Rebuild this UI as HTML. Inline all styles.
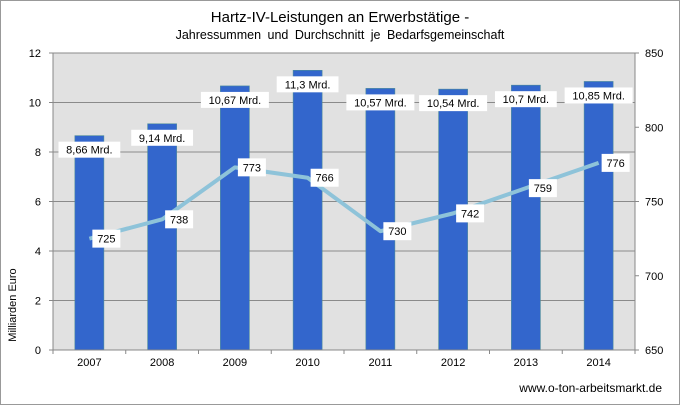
<!DOCTYPE html>
<html><head><meta charset="utf-8"><style>
body{margin:0;background:#fff;}
svg text{font-family:"Liberation Sans",Arial,sans-serif;}
</style></head><body>
<svg width="680" height="405" xmlns="http://www.w3.org/2000/svg">
<rect x="0.5" y="0.5" width="679" height="404" fill="#fff" stroke="#999"/>
<text x="340" y="22" font-size="15" text-anchor="middle">Hartz-IV-Leistungen an Erwerbstätige -</text>
<text x="340" y="39" font-size="12.5" text-anchor="middle" word-spacing="3">Jahressummen und Durchschnitt je Bedarfsgemeinschaft</text>
<rect x="53" y="53" width="582" height="297" fill="#e1e1e1"/>
<g id="grid"></g><g id="bars"></g><g id="line"></g><g id="axes"></g>
<text transform="translate(16,305) rotate(-90)" font-size="11" text-anchor="middle">Milliarden Euro</text>
<text x="662" y="392" font-size="12" text-anchor="end">www.o-ton-arbeitsmarkt.de</text>
</svg>
<script>
const categories=["2007","2008","2009","2010","2011","2012","2013","2014"];
const billions=[8.66,9.14,10.67,11.3,10.57,10.54,10.7,10.85];
const billionLabels=["8,66 Mrd.","9,14 Mrd.","10,67 Mrd.","11,3 Mrd.","10,57 Mrd.","10,54 Mrd.","10,7 Mrd.","10,85 Mrd."];
const average=[725,738,773,766,730,742,759,776];
const leftTicks=[0,2,4,6,8,10,12];
const rightTicks=[650,700,750,800,850];
const NS="http://www.w3.org/2000/svg";
const X0=53,X1=635,Y0=350,Y1=53;
const bw=(X1-X0)/categories.length;
const xc=i=>X0+bw*(i+0.5);
const yL=v=>Y0-(v/12)*(Y0-Y1);
const yR=v=>Y0-((v-650)/200)*(Y0-Y1);
function mk(tag,attrs,parent,text){const e=document.createElementNS(NS,tag);for(const k in attrs)e.setAttribute(k,attrs[k]);if(text!==undefined)e.textContent=text;document.getElementById(parent).appendChild(e);return e;}
leftTicks.forEach(t=>{
 const g=mk('line',{x1:X0,x2:X1,y1:yL(t),y2:yL(t),stroke:'#8a8a8a','stroke-width':1},'grid');
 
 
 mk('line',{x1:X0-4,x2:X0,y1:yL(t),y2:yL(t),stroke:'#888'},'axes');
 const l=mk('text',{x:X0-12,y:yL(t)+4,'font-size':11,'text-anchor':'end'},'axes',String(t));
 
 
});
rightTicks.forEach(t=>{
 mk('line',{x1:X1,x2:X1+4,y1:yR(t),y2:yR(t),stroke:'#888'},'axes');
 const l=mk('text',{x:X1+10,y:yR(t)+4,'font-size':11},'axes',String(t));
 
 
});
mk('line',{x1:X0,x2:X0,y1:Y1,y2:Y0,stroke:'#888'},'axes');
mk('line',{x1:X1,x2:X1,y1:Y1,y2:Y0,stroke:'#888'},'axes');
mk('line',{x1:X0,x2:X1,y1:Y0,y2:Y0,stroke:'#888'},'axes');
for(let i=0;i<=categories.length;i++)mk('line',{x1:X0+bw*i,x2:X0+bw*i,y1:Y0,y2:Y0+4,stroke:'#888'},'axes');
categories.forEach((c,i)=>{
 const l=mk('text',{x:xc(i),y:Y0+16,'font-size':11,'text-anchor':'middle'},'axes',c);
 
 
 const b=mk('rect',{x:xc(i)-14.5,y:yL(billions[i]),width:29,height:Y0-yL(billions[i]),fill:'#3366cc',stroke:'#4a8a9a','stroke-width':0.6},'bars');
 
 
 const w=billionLabels[i].length*6.2+6;
 const ly=yL(billions[i])+6;
 const r=mk('rect',{x:xc(i)-w/2,y:ly,width:w,height:16,fill:'#fff'},'bars');
 
 
 const t=mk('text',{x:xc(i),y:ly+12,'font-size':11,'text-anchor':'middle'},'bars',billionLabels[i]);
 
 
});
const pl=mk('polyline',{points:average.map((v,i)=>xc(i)+','+yR(v)).join(' '),fill:'none',stroke:'#8ec3d9','stroke-width':4,'stroke-linejoin':'round'},'line');


average.forEach((v,i)=>{
 const r=mk('rect',{x:xc(i)+3,y:yR(v)-9,width:28,height:18,fill:'#fff'},'line');
 
 
 const t=mk('text',{x:xc(i)+17,y:yR(v)+4,'font-size':11,'text-anchor':'middle'},'line',String(v));
 
 
});
</script>
</body></html>
